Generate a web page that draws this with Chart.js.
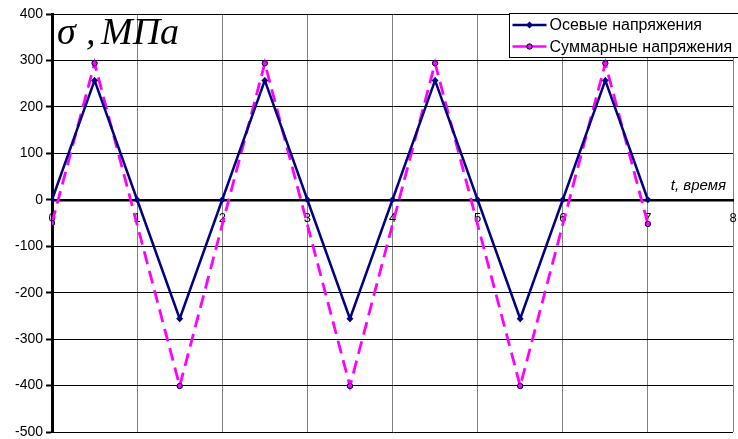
<!DOCTYPE html>
<html>
<head>
<meta charset="utf-8">
<script src="https://cdn.jsdelivr.net/npm/chart.js@4/dist/chart.umd.min.js"></script>
<style>
html,body{margin:0;padding:0;background:#fff;}
#wrap{width:738px;height:439px;position:relative;}
</style>
</head>
<body>
<div id="wrap"><canvas id="c" width="738" height="439"></canvas></div>
<script>
const axialLabel = 'Осевые напряжения';
const sumLabel = 'Суммарные напряжения';
const yTitleSymbol = 'σ';
const yTitleUnit = 'МПа';
const xTitle = 't, время';
const axialT = [0, 0.5, 1, 1.5, 2, 2.5, 3, 3.5, 4, 4.5, 5, 5.5, 6, 6.5, 7];
const axialValues = [0, 257, 0, -256, 0, 257, 0, -256, 0, 257, 0, -256, 0, 257, 0];
const sumT = [0, 0.5, 1.5, 2.5, 3.5, 4.5, 5.5, 6.5, 7];
const sumValues = [-50, 294, -401, 294, -401, 294, -401, 294, -52];
const xTicks = [0, 1, 2, 3, 4, 5, 6, 7, 8];
const yTicks = [400, 300, 200, 100, 0, -100, -200, -300, -400, -500];

const NAVY = '#000080';
const MAG = '#FF00FF';

const decor = {
  id: 'decor',
  afterDraw(chart) {
    const ctx = chart.ctx;
    const ca = chart.chartArea;
    ctx.save();
    // title
    ctx.fillStyle = '#000';
    ctx.font = "italic 38px 'Liberation Serif'";
    ctx.textBaseline = 'alphabetic';
    ctx.textAlign = 'left';
    ctx.fillText(yTitleSymbol, ca.left + 5, 44);
    ctx.fillText(',', ca.left + 34, 44);
    ctx.fillText(yTitleUnit, ca.left + 49, 44);
    // x title
    ctx.font = "italic 15px 'Liberation Sans'";
    ctx.textAlign = 'right';
    const y0 = chart.scales.y.getPixelForValue(0);
    ctx.fillText(xTitle, ca.right - 7, y0 - 10);
    // legend
    const lx = 509.5, ly = 13.5, lw = 232, lh = 44;
    ctx.fillStyle = '#fff';
    ctx.fillRect(lx, ly, lw, lh);
    ctx.strokeStyle = '#000';
    ctx.lineWidth = 1;
    ctx.strokeRect(lx, ly, lw, lh);
    const rows = [
      {label: axialLabel, color: NAVY, y: ly + 11.5, diamond: true},
      {label: sumLabel, color: MAG, y: ly + 33, diamond: false}
    ];
    rows.forEach(r => {
      ctx.beginPath();
      ctx.strokeStyle = r.color;
      ctx.lineWidth = 2.5;
      ctx.moveTo(lx + 3, r.y);
      ctx.lineTo(lx + 37, r.y);
      ctx.stroke();
      const mx = lx + 20;
      ctx.beginPath();
      if (r.diamond) {
        ctx.moveTo(mx, r.y - 3.5); ctx.lineTo(mx + 3.5, r.y); ctx.lineTo(mx, r.y + 3.5); ctx.lineTo(mx - 3.5, r.y); ctx.closePath();
        ctx.fillStyle = NAVY; ctx.fill();
      } else {
        ctx.arc(mx, r.y, 2.7, 0, Math.PI * 2);
        ctx.fillStyle = MAG; ctx.fill();
        ctx.strokeStyle = '#000040'; ctx.lineWidth = 1; ctx.stroke();
      }
      ctx.fillStyle = '#000';
      ctx.font = "16px 'Liberation Sans'";
      ctx.textAlign = 'left';
      ctx.textBaseline = 'middle';
      ctx.fillText(r.label, lx + 40, r.y + 1);
    });
    ctx.restore();
  }
};

new Chart(document.getElementById('c'), {
  type: 'scatter',
  data: {
    datasets: [
      {
        label: axialLabel,
        data: axialT.map((t, i) => ({x: t, y: axialValues[i]})),
        showLine: true,
        borderColor: NAVY,
        backgroundColor: NAVY,
        borderWidth: 2.5,
        pointStyle: 'rectRot',
        pointRadius: 3.5,
        pointBorderWidth: 0,
        pointBackgroundColor: NAVY,
        order: 1
      },
      {
        label: sumLabel,
        data: sumT.map((t, i) => ({x: t, y: sumValues[i]})),
        showLine: true,
        borderColor: MAG,
        backgroundColor: MAG,
        borderWidth: 2.8,
        borderDash: [13, 7],
        pointStyle: 'circle',
        pointRadius: 2.7,
        pointBorderWidth: 1,
        pointBorderColor: '#000040',
        pointBackgroundColor: MAG,
        order: 2
      }
    ]
  },
  options: {
    responsive: false,
    animation: false,
    devicePixelRatio: 1,
    layout: {padding: {left: 0, right: 5, top: 14, bottom: 7}},
    plugins: {legend: {display: false}, tooltip: {enabled: false}},
    scales: {
      x: {
        type: 'linear',
        position: {y: 0},
        min: 0, max: 8,
        afterFit(s) { s.height = 0; s.paddingLeft = 0; s.paddingRight = 0; s.paddingTop = 0; s.paddingBottom = 0; },
        afterBuildTicks(s) { s.ticks = xTicks.map(v => ({value: v})); },
        grid: {color: '#808080', lineWidth: 1, drawTicks: false},
        border: {color: '#000', width: 2.5},
        ticks: {color: '#000', font: {family: 'Liberation Sans', size: 13}, padding: 11, maxRotation: 0, autoSkip: false}
      },
      y: {
        type: 'linear',
        min: -500, max: 400,
        afterFit(s) { s.width = 52; s.paddingTop = 0; s.paddingBottom = 0; s.paddingLeft = 0; s.paddingRight = 0; },
        afterBuildTicks(s) { s.ticks = yTicks.map(v => ({value: v})); },
        grid: {color: '#000', lineWidth: 1, tickLength: 6, tickColor: '#000', tickWidth: 2},
        border: {color: '#000', width: 3},
        ticks: {color: '#000', font: {family: 'Liberation Sans', size: 14}, padding: 3}
      }
    }
  },
  plugins: [decor]
});
</script>
</body>
</html>
